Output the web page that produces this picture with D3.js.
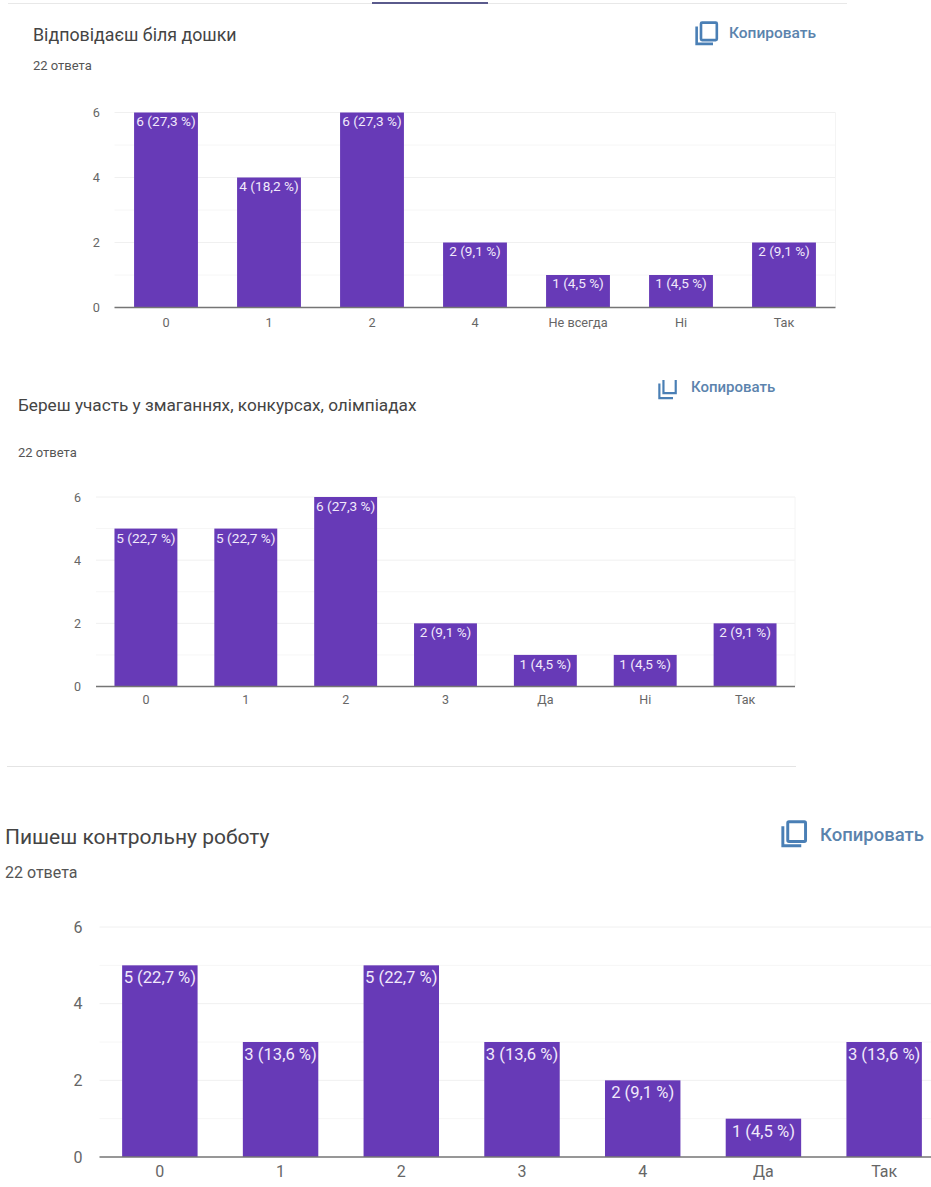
<!DOCTYPE html>
<html><head><meta charset="utf-8">
<script src="https://cdn.jsdelivr.net/npm/d3@7"></script>
<style>html,body{margin:0;padding:0;background:#fff;overflow:hidden}svg{display:block;font-family:Roboto,"Liberation Sans",sans-serif}</style>
</head><body>
<svg id="c" width="931" height="1187"></svg>
<script>
const titles = ["Відповідаєш біля дошки","Береш участь у змаганнях, конкурсах, олімпіадах","Пишеш контрольну роботу"];
const answers = "22 ответа";
const copyLabel = "Копировать";
const yTicks = [0,2,4,6];
const minorTicks = [1,3,5];
const cats1 = ["0","1","2","4","Не всегда","Ні","Так"];
const vals1 = [6,4,6,2,1,1,2];
const labs1 = ["6 (27,3 %)","4 (18,2 %)","6 (27,3 %)","2 (9,1 %)","1 (4,5 %)","1 (4,5 %)","2 (9,1 %)"];
const cats2 = ["0","1","2","3","Да","Ні","Так"];
const vals2 = [5,5,6,2,1,1,2];
const labs2 = ["5 (22,7 %)","5 (22,7 %)","6 (27,3 %)","2 (9,1 %)","1 (4,5 %)","1 (4,5 %)","2 (9,1 %)"];
const cats3 = ["0","1","2","3","4","Да","Так"];
const vals3 = [5,3,5,3,2,1,3];
const labs3 = ["5 (22,7 %)","3 (13,6 %)","5 (22,7 %)","3 (13,6 %)","2 (9,1 %)","1 (4,5 %)","3 (13,6 %)"];

const svg = d3.select("#c");
const PURPLE="#673ab7", BLUE="#4a7fb5";

function panel(o){
  const x = d3.scaleBand().domain(o.cats).range([o.left,o.right]).paddingInner(o.pad).paddingOuter(o.pad/2);
  const y = d3.scaleLinear().domain([0,6]).range([o.bottom,o.top]);
  const g = svg.append("g");
  g.selectAll("line.minor").data(minorTicks).join("line").attr("class","minor")
    .attr("x1",o.left).attr("x2",o.right).attr("y1",d=>y(d)).attr("y2",d=>y(d)).attr("stroke","#f6f6f6");
  g.selectAll("line.major").data(yTicks.filter(d=>d>0)).join("line").attr("class","major")
    .attr("x1",o.left).attr("x2",o.right).attr("y1",d=>y(d)).attr("y2",d=>y(d)).attr("stroke","#f0f0f0");
  g.append("line").attr("x1",o.right).attr("x2",o.right).attr("y1",o.top).attr("y2",o.bottom).attr("stroke","#f4f4f4");
  g.selectAll("rect").data(o.vals).join("rect")
    .attr("x",(d,i)=>x(o.cats[i])).attr("width",x.bandwidth())
    .attr("y",d=>y(d)).attr("height",d=>y(0)-y(d)).attr("fill",PURPLE);
  g.selectAll("text.lab").data(o.vals).join("text").attr("class","lab")
    .attr("x",(d,i)=>x(o.cats[i])+x.bandwidth()/2).attr("y",d=>y(d)+o.labDy)
    .attr("text-anchor","middle").attr("font-size",o.lab).attr("fill","#f1e9fb")
    .text((d,i)=>o.labs[i]);
  const ax = g.append("g").attr("transform",`translate(0,${o.bottom})`).call(d3.axisBottom(x).tickSize(0).tickPadding(o.xPad));
  ax.select(".domain").attr("stroke","#757575").attr("stroke-width",o.axisW).attr("d",`M${o.left},0H${o.right}`);
  ax.selectAll("text").attr("font-size",o.tick).attr("fill","#666").attr("font-family","Roboto,sans-serif");
  const ay = g.append("g").attr("transform",`translate(${o.left},0)`).call(d3.axisLeft(y).tickValues(yTicks).tickFormat(d3.format("d")).tickSize(0).tickPadding(o.yPad));
  ay.select(".domain").remove();
  ay.selectAll("text").attr("font-size",o.tick).attr("fill","#666").attr("font-family","Roboto,sans-serif");
}

function head(t,tx,ty,ts,ax,ay,as,ix,iy,is,lx,ly,ls,full){
  svg.append("text").attr("x",tx).attr("y",ty).attr("font-size",ts).attr("fill","#444").text(t);
  svg.append("text").attr("x",ax).attr("y",ay).attr("font-size",as).attr("fill","#555").text(answers);
  const k=is/22, ic=svg.append("g").attr("transform",`translate(${ix},${iy}) scale(${k})`).attr("fill","none").attr("stroke",BLUE).attr("stroke-width",2.4);
  ic.append("path").attr("d","M1.5,5V21H16.5");
  if(full) ic.append("rect").attr("x",5.5).attr("y",1.5).attr("width",14.5).attr("height",16).attr("rx",1);
  else ic.append("path").attr("d","M6,1V15.5H19.5V1");
  svg.append("text").attr("x",lx).attr("y",ly).attr("font-size",ls).attr("font-weight",500).attr("fill","#5b83ad").text(copyLabel);
}

// page rules
svg.append("line").attr("x1",8).attr("x2",847).attr("y1",3.5).attr("y2",3.5).attr("stroke","#e8e8e8");
svg.append("line").attr("x1",372).attr("x2",488).attr("y1",3).attr("y2",3).attr("stroke","#5a5a8c").attr("stroke-width",2);
svg.append("line").attr("x1",7).attr("x2",796).attr("y1",766.5).attr("y2",766.5).attr("stroke","#e4e4e4");

head(titles[0],33,41,17.8,33,70,13,695,21,24,729,38,15.5,true);
head(titles[1],18,411,17.2,18,457,13,658,379,20,691,392,15,false);
head(titles[2],5,844,21,5,878,16,781,820,27,820,841,18.5,true);

panel({cats:cats1,vals:vals1,labs:labs1,left:114.5,right:835.5,top:112.5,bottom:307.5,pad:0.38,lab:13.6,labDy:13,tick:12.7,xPad:10,yPad:14.5,axisW:1.4});
panel({cats:cats2,vals:vals2,labs:labs2,left:96,right:795,top:497,bottom:686.5,pad:0.37,lab:13.6,labDy:14,tick:12.5,xPad:9,yPad:15,axisW:1.4});
panel({cats:cats3,vals:vals3,labs:labs3,left:99.5,right:944.5,top:927,bottom:1157,pad:0.375,lab:16.6,labDy:18,tick:16,xPad:9,yPad:17,axisW:1.6});
</script>
</body></html>
